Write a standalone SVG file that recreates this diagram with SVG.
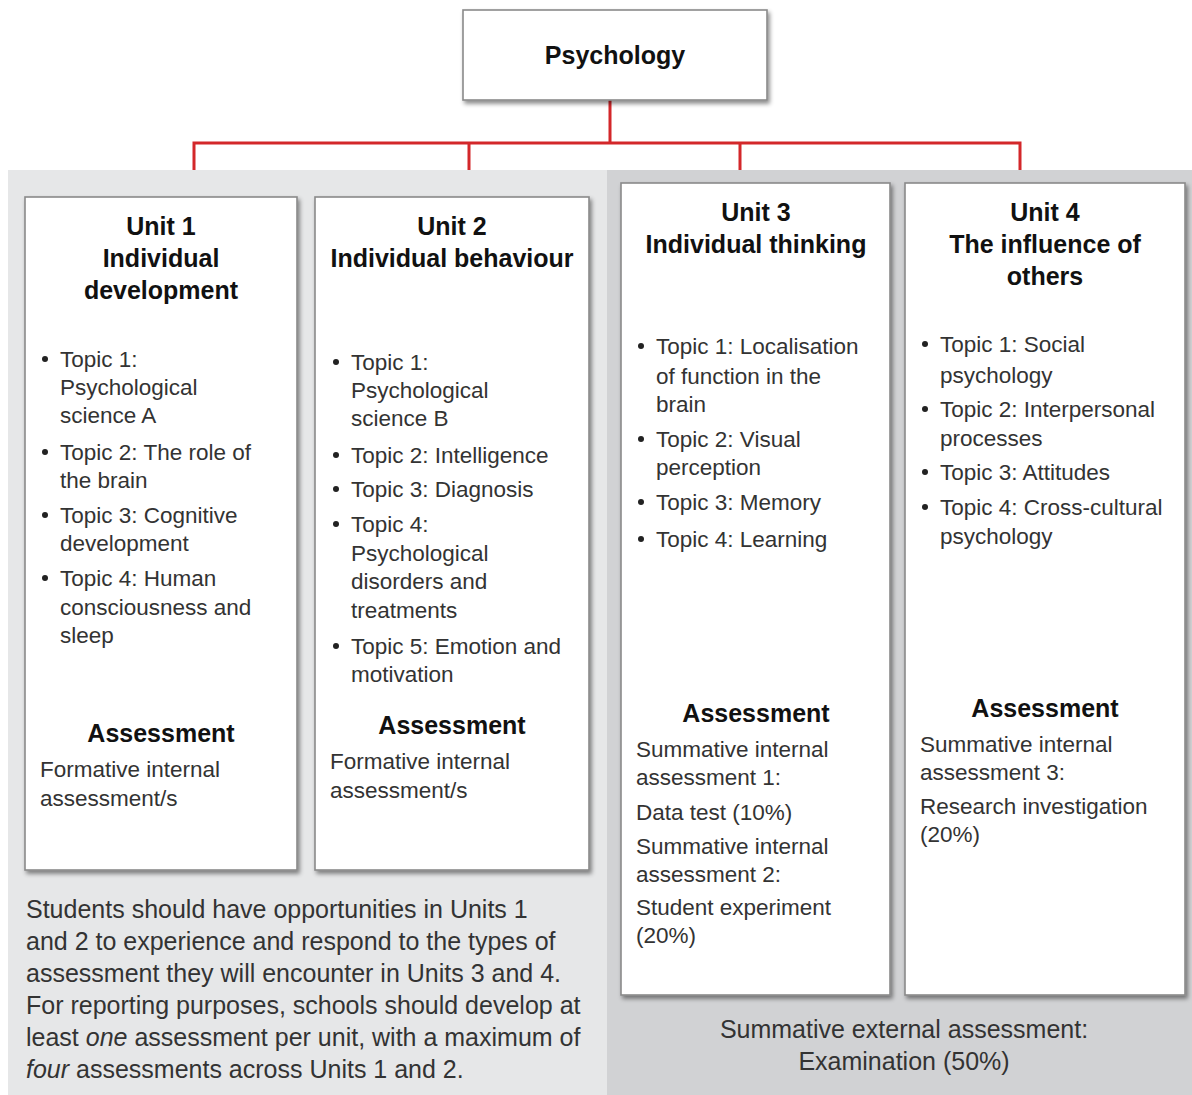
<svg xmlns="http://www.w3.org/2000/svg" width="1192" height="1095" viewBox="0 0 1192 1095">
<defs>
<filter id="sh" x="-10%" y="-10%" width="130%" height="130%">
<feDropShadow dx="2" dy="3" stdDeviation="2" flood-color="#000" flood-opacity="0.45"/>
</filter>
<style>
.box{fill:#fff;stroke:#8a8a8a;stroke-width:1.6;filter:url(#sh)}
.t{font-family:"Liberation Sans",Arial,sans-serif;font-weight:bold;font-size:25px;fill:#111;text-anchor:middle}
.b{font-family:"Liberation Sans",Arial,sans-serif;font-size:22.5px;fill:#333}
.p{font-family:"Liberation Sans",Arial,sans-serif;font-size:25px;fill:#333}
.dot{fill:#222}
.con{fill:none;stroke:#d3272a;stroke-width:3}
</style>
</defs>
<rect x="0" y="0" width="1192" height="1095" fill="#fff"/>
<rect x="8" y="170" width="600" height="925" fill="#e6e7e8"/>
<rect x="607" y="170" width="585" height="925" fill="#d1d2d4"/>

<g id="connectors">
<path class="con" d="M610 100 V143 M194 170 V143 H1020 V170 M469 143 V170 M740 143 V170"/>
</g>

<g id="psychology">
<rect class="box" x="463" y="10" width="304" height="90" stroke-width="2.5"/>
<text class="t" x="615" y="64">Psychology</text>
</g>

<g id="unit1">
<rect class="box" x="25" y="197" width="272" height="673"/>
<text class="t" x="161" y="235">Unit 1</text>
<text class="t" x="161" y="267">Individual</text>
<text class="t" x="161" y="299">development</text>
<circle class="dot" cx="45" cy="359" r="3"/>
<text class="b" x="60" y="367">Topic 1:</text>
<text class="b" x="60" y="395">Psychological</text>
<text class="b" x="60" y="423">science A</text>
<circle class="dot" cx="45" cy="452" r="3"/>
<text class="b" x="60" y="460">Topic 2: The role of</text>
<text class="b" x="60" y="488">the brain</text>
<circle class="dot" cx="45" cy="515" r="3"/>
<text class="b" x="60" y="523">Topic 3: Cognitive</text>
<text class="b" x="60" y="551">development</text>
<circle class="dot" cx="45" cy="578" r="3"/>
<text class="b" x="60" y="586">Topic 4: Human</text>
<text class="b" x="60" y="615">consciousness and</text>
<text class="b" x="60" y="643">sleep</text>
<text class="t" x="161" y="742">Assessment</text>
<text class="b" x="40" y="777">Formative internal</text>
<text class="b" x="40" y="806">assessment/s</text>
</g>

<g id="unit2">
<rect class="box" x="315" y="197" width="274" height="673"/>
<text class="t" x="452" y="235">Unit 2</text>
<text class="t" x="452" y="267">Individual behaviour</text>
<circle class="dot" cx="336" cy="362" r="3"/>
<text class="b" x="351" y="370">Topic 1:</text>
<text class="b" x="351" y="398">Psychological</text>
<text class="b" x="351" y="426">science B</text>
<circle class="dot" cx="336" cy="455" r="3"/>
<text class="b" x="351" y="463">Topic 2: Intelligence</text>
<circle class="dot" cx="336" cy="489" r="3"/>
<text class="b" x="351" y="497">Topic 3: Diagnosis</text>
<circle class="dot" cx="336" cy="524" r="3"/>
<text class="b" x="351" y="532">Topic 4:</text>
<text class="b" x="351" y="561">Psychological</text>
<text class="b" x="351" y="589">disorders and</text>
<text class="b" x="351" y="618">treatments</text>
<circle class="dot" cx="336" cy="646" r="3"/>
<text class="b" x="351" y="654">Topic 5: Emotion and</text>
<text class="b" x="351" y="682">motivation</text>
<text class="t" x="452" y="734">Assessment</text>
<text class="b" x="330" y="769">Formative internal</text>
<text class="b" x="330" y="798">assessment/s</text>
</g>

<g id="unit3">
<rect class="box" x="621" y="183" width="269" height="812"/>
<text class="t" x="756" y="221">Unit 3</text>
<text class="t" x="756" y="253">Individual thinking</text>
<circle class="dot" cx="641" cy="346" r="3"/>
<text class="b" x="656" y="354">Topic 1: Localisation</text>
<text class="b" x="656" y="384">of function in the</text>
<text class="b" x="656" y="412">brain</text>
<circle class="dot" cx="641" cy="439" r="3"/>
<text class="b" x="656" y="447">Topic 2: Visual</text>
<text class="b" x="656" y="475">perception</text>
<circle class="dot" cx="641" cy="502" r="3"/>
<text class="b" x="656" y="510">Topic 3: Memory</text>
<circle class="dot" cx="641" cy="539" r="3"/>
<text class="b" x="656" y="547">Topic 4: Learning</text>
<text class="t" x="756" y="722">Assessment</text>
<text class="b" x="636" y="757">Summative internal</text>
<text class="b" x="636" y="785">assessment 1:</text>
<text class="b" x="636" y="820">Data test (10%)</text>
<text class="b" x="636" y="854">Summative internal</text>
<text class="b" x="636" y="882">assessment 2:</text>
<text class="b" x="636" y="915">Student experiment</text>
<text class="b" x="636" y="943">(20%)</text>
</g>

<g id="unit4">
<rect class="box" x="905" y="183" width="280" height="812"/>
<text class="t" x="1045" y="221">Unit 4</text>
<text class="t" x="1045" y="253">The influence of</text>
<text class="t" x="1045" y="285">others</text>
<circle class="dot" cx="925" cy="344" r="3"/>
<text class="b" x="940" y="352">Topic 1: Social</text>
<text class="b" x="940" y="383">psychology</text>
<circle class="dot" cx="925" cy="409" r="3"/>
<text class="b" x="940" y="417">Topic 2: Interpersonal</text>
<text class="b" x="940" y="446">processes</text>
<circle class="dot" cx="925" cy="472" r="3"/>
<text class="b" x="940" y="480">Topic 3: Attitudes</text>
<circle class="dot" cx="925" cy="507" r="3"/>
<text class="b" x="940" y="515">Topic 4: Cross-cultural</text>
<text class="b" x="940" y="544">psychology</text>
<text class="t" x="1045" y="717">Assessment</text>
<text class="b" x="920" y="752">Summative internal</text>
<text class="b" x="920" y="780">assessment 3:</text>
<text class="b" x="920" y="814">Research investigation</text>
<text class="b" x="920" y="842">(20%)</text>
</g>

<g id="note-units12">
<text class="p" x="26" y="918">Students should have opportunities in Units 1</text>
<text class="p" x="26" y="950">and 2 to experience and respond to the types of</text>
<text class="p" x="26" y="982">assessment they will encounter in Units 3 and 4.</text>
<text class="p" x="26" y="1014">For reporting purposes, schools should develop at</text>
<text class="p" x="26" y="1046">least <tspan font-style="italic">one</tspan> assessment per unit, with a maximum of</text>
<text class="p" x="26" y="1078"><tspan font-style="italic">four</tspan> assessments across Units 1 and 2.</text>
</g>

<g id="note-external">
<text class="p" x="904" y="1038" text-anchor="middle">Summative external assessment:</text>
<text class="p" x="904" y="1070" text-anchor="middle">Examination (50%)</text>
</g>
</svg>
